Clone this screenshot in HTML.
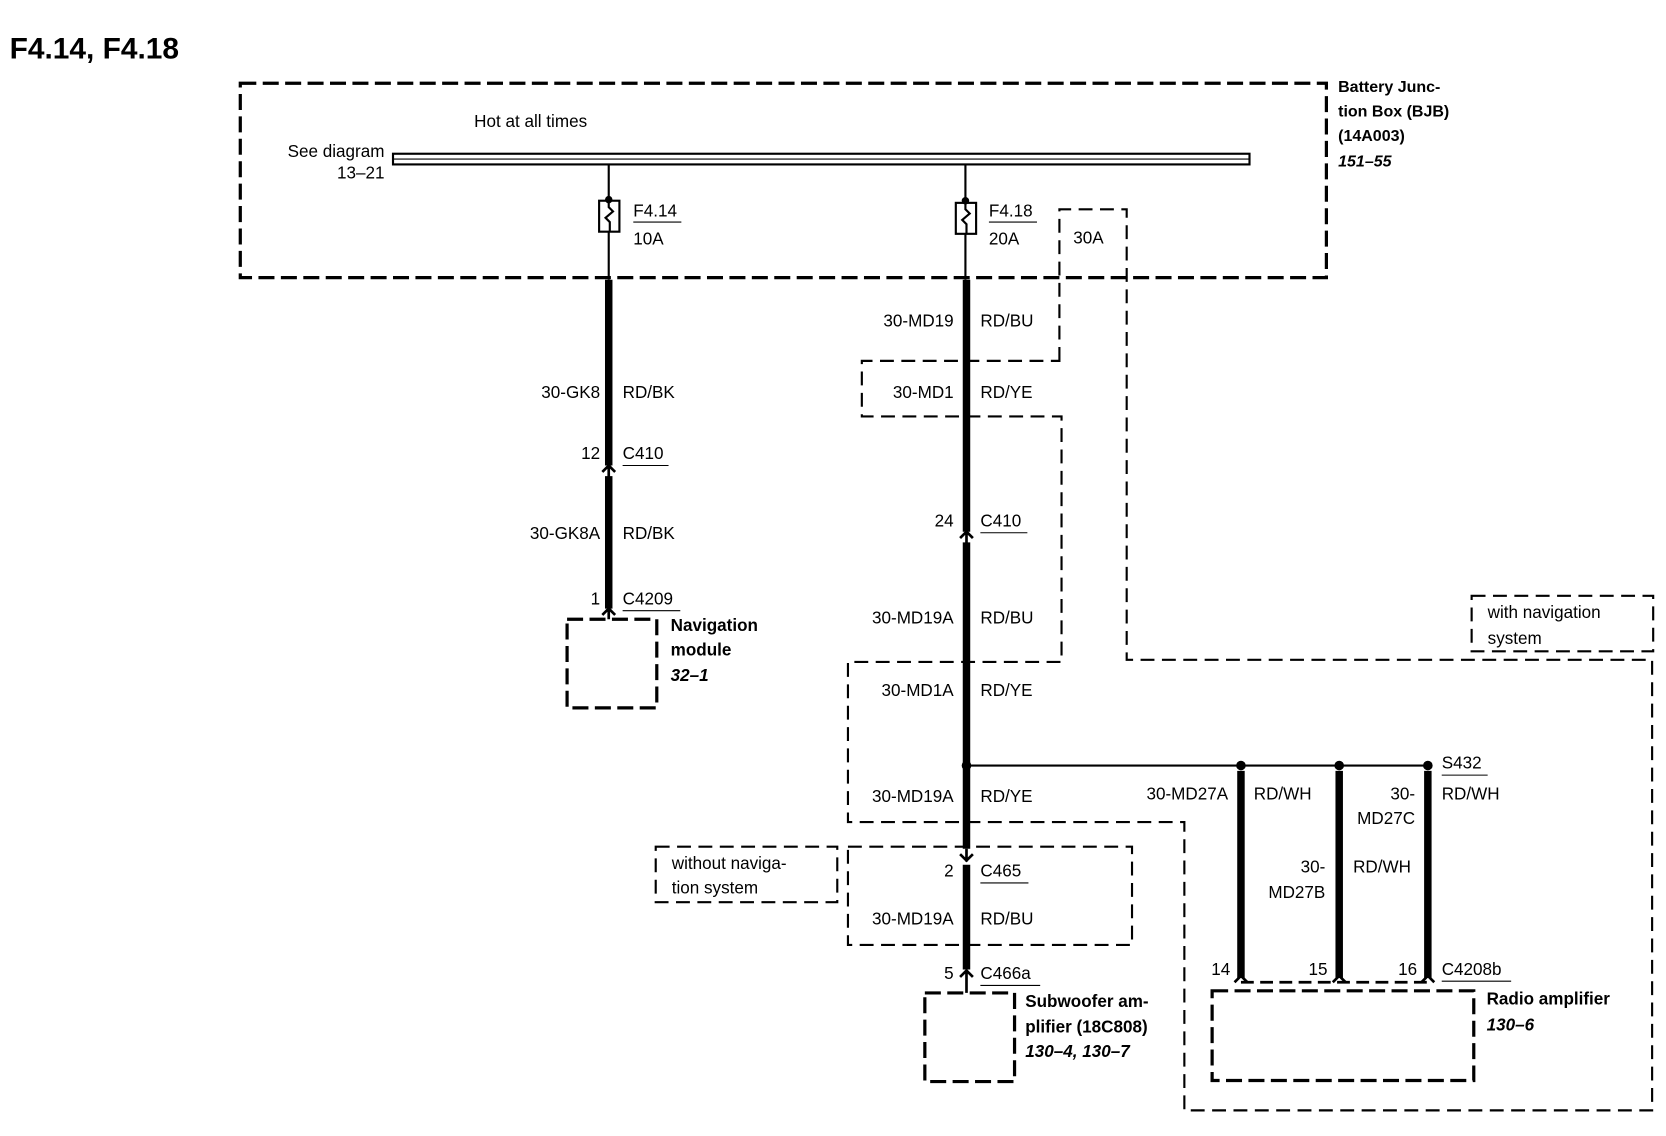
<!DOCTYPE html>
<html><head><meta charset="utf-8"><style>
html,body{margin:0;padding:0;background:#fff;}
svg{display:block;}
text{font-family:"Liberation Sans",Arial,sans-serif;font-size:16px;fill:#000;}
.b{font-weight:bold;}
.i{font-style:italic;font-weight:bold;}
.e{text-anchor:end;}
</style></head><body>
<svg width="1666" height="1136" viewBox="3 0 1560 1064" preserveAspectRatio="none" xmlns="http://www.w3.org/2000/svg">
<rect x="0" width="1570" height="1064" fill="#fff"/>
<text x="12" y="55" class="b" style="font-size:28px">F4.14, F4.18</text>

<!-- BJB box -->
<rect x="228" y="78" width="1017" height="182" fill="none" stroke="#000" stroke-width="3" stroke-dasharray="15,6"/>
<text x="1256" y="86" class="b" style="font-size:15px">Battery Junc-</text>
<text x="1256" y="109" class="b" style="font-size:15px">tion Box (BJB)</text>
<text x="1256" y="132" class="b" style="font-size:15px">(14A003)</text>
<text x="1256" y="156" class="i" style="font-size:15px">151–55</text>

<text x="447" y="119">Hot at all times</text>
<text x="363" y="147" class="e">See diagram</text>
<text x="363" y="167" class="e">13–21</text>

<!-- busbar -->
<rect x="371" y="144" width="802" height="10" fill="#fff" stroke="#000" stroke-width="2"/>
<line x1="371" y1="149" x2="1173" y2="149" stroke="#000" stroke-width="1"/>

<!-- fuses -->
<g stroke="#000" fill="none" stroke-width="2">
<line x1="573" y1="154" x2="573" y2="262"/>
<rect x="564" y="188" width="19" height="29" fill="#fff"/>
<path d="M573 188 v6 l4 4 l-7 6 l4 4 v9"/>
<line x1="907" y1="154" x2="907" y2="262"/>
<rect x="898" y="190" width="19" height="29" fill="#fff"/>
<path d="M907 190 v6 l4 4 l-7 6 l4 4 v9"/>
</g>
<circle cx="573" cy="187" r="3.5"/>
<circle cx="907" cy="188" r="3.5"/>
<text x="596" y="203">F4.14</text><line x1="596" y1="208" x2="641" y2="208" stroke="#000"/>
<text x="596" y="229">10A</text>
<text x="929" y="203">F4.18</text><line x1="929" y1="208" x2="974" y2="208" stroke="#000"/>
<text x="929" y="229">20A</text>

<!-- big dashed outline -->
<path d="M995 338 V196 H1058 V618 H1550 V1040 H1112 V770 H797 V620 H997 V390 H810 V338 Z" fill="none" stroke="#000" stroke-width="2" stroke-dasharray="13,7"/>
<text x="1008" y="228">30A</text>

<g stroke="#000" stroke-width="7" fill="none">
<line x1="573" y1="262" x2="573" y2="436"/>
<line x1="573" y1="446" x2="573" y2="570"/>
<line x1="908" y1="262" x2="908" y2="498"/>
<line x1="908" y1="508" x2="908" y2="795"/>
<line x1="908" y1="810" x2="908" y2="908"/>
<line x1="1165" y1="722" x2="1165" y2="916"/>
<line x1="1257" y1="722" x2="1257" y2="916"/>
<line x1="1340" y1="722" x2="1340" y2="916"/>
</g>
<g stroke="#000" stroke-width="2.5" fill="none">
<path d="M567 442 l6 -6 l6 6 M573 436 v14"/>
<path d="M567 576 l6 -6 l6 6 M573 570 v10"/>
<path d="M902 504 l6 -6 l6 6 M908 498 v12"/>
<path d="M902 800 l6 6 l6 -6 M908 795 v12"/>
<path d="M902 915 l6 -6 l6 6 M908 909 v21"/>
<path d="M1159 920 l6 -6 l6 6"/>
<path d="M1251 920 l6 -6 l6 6"/>
<path d="M1334 920 l6 -6 l6 6"/>
</g>
<line x1="1165" y1="920" x2="1340" y2="920" stroke="#000" stroke-width="2.5" stroke-dasharray="12,6"/>

<text x="565" y="373" class="e">30-GK8</text><text x="586" y="373">RD/BK</text>
<text x="565" y="430" class="e">12</text><text x="586" y="430">C410</text><line x1="586" y1="436" x2="629" y2="436" stroke="#000"/>
<text x="565" y="505" class="e">30-GK8A</text><text x="586" y="505">RD/BK</text>
<text x="565" y="566" class="e">1</text><text x="586" y="566">C4209</text><line x1="586" y1="572" x2="640" y2="572" stroke="#000"/>
<rect x="534" y="580" width="84" height="83" fill="none" stroke="#000" stroke-width="3" stroke-dasharray="15,6"/>
<text x="631" y="591" class="b">Navigation</text>
<text x="631" y="614" class="b">module</text>
<text x="631" y="638" class="i">32–1</text>

<text x="896" y="306" class="e">30-MD19</text><text x="921" y="306">RD/BU</text>
<text x="896" y="373" class="e">30-MD1</text><text x="921" y="373">RD/YE</text>
<text x="896" y="493" class="e">24</text><text x="921" y="493">C410</text><line x1="921" y1="499" x2="965" y2="499" stroke="#000"/>
<text x="896" y="584" class="e">30-MD19A</text><text x="921" y="584">RD/BU</text>
<text x="896" y="652" class="e">30-MD1A</text><text x="921" y="652">RD/YE</text>
<text x="896" y="751" class="e">30-MD19A</text><text x="921" y="751">RD/YE</text>
<text x="896" y="821" class="e">2</text><text x="921" y="821">C465</text><line x1="921" y1="827" x2="966" y2="827" stroke="#000"/>
<text x="896" y="866" class="e">30-MD19A</text><text x="921" y="866">RD/BU</text>
<text x="896" y="917" class="e">5</text><text x="921" y="917">C466a</text><line x1="921" y1="923" x2="977" y2="923" stroke="#000"/>

<rect x="617" y="793" width="170" height="52" fill="none" stroke="#000" stroke-width="2" stroke-dasharray="13,7"/>
<text x="632" y="814">without naviga-</text>
<text x="632" y="837">tion system</text>
<rect x="797" y="793" width="266" height="92" fill="none" stroke="#000" stroke-width="2" stroke-dasharray="13,7"/>

<rect x="869" y="930" width="84" height="83" fill="none" stroke="#000" stroke-width="3" stroke-dasharray="15,6"/>
<text x="963" y="943" class="b">Subwoofer am-</text>
<text x="963" y="967" class="b">plifier (18C808)</text>
<text x="963" y="990" class="i">130–4, 130–7</text>

<line x1="908" y1="717" x2="1340" y2="717" stroke="#000" stroke-width="2"/>
<circle cx="908" cy="717" r="4.5"/><circle cx="1165" cy="717" r="4.5"/><circle cx="1257" cy="717" r="4.5"/><circle cx="1340" cy="717" r="4.5"/>
<text x="1353" y="720">S432</text><line x1="1353" y1="726" x2="1396" y2="726" stroke="#000"/>
<text x="1353" y="749">RD/WH</text>
<text x="1153" y="749" class="e">30-MD27A</text><text x="1177" y="749">RD/WH</text>
<text x="1244" y="817" class="e">30-</text><text x="1244" y="841" class="e">MD27B</text>
<text x="1270" y="817">RD/WH</text>
<text x="1328" y="749" class="e">30-</text><text x="1328" y="772" class="e">MD27C</text>
<text x="1155" y="913" class="e">14</text>
<text x="1246" y="913" class="e">15</text>
<text x="1330" y="913" class="e">16</text>
<text x="1353" y="913">C4208b</text><line x1="1353" y1="919" x2="1418" y2="919" stroke="#000"/>
<rect x="1138" y="928" width="245" height="84" fill="none" stroke="#000" stroke-width="3" stroke-dasharray="15,6"/>
<text x="1395" y="941" class="b">Radio amplifier</text>
<text x="1395" y="965" class="i">130–6</text>

<rect x="1381" y="558" width="170" height="52" fill="none" stroke="#000" stroke-width="2" stroke-dasharray="13,7"/>
<text x="1396" y="579">with navigation</text>
<text x="1396" y="603">system</text>
</svg>
</body></html>
